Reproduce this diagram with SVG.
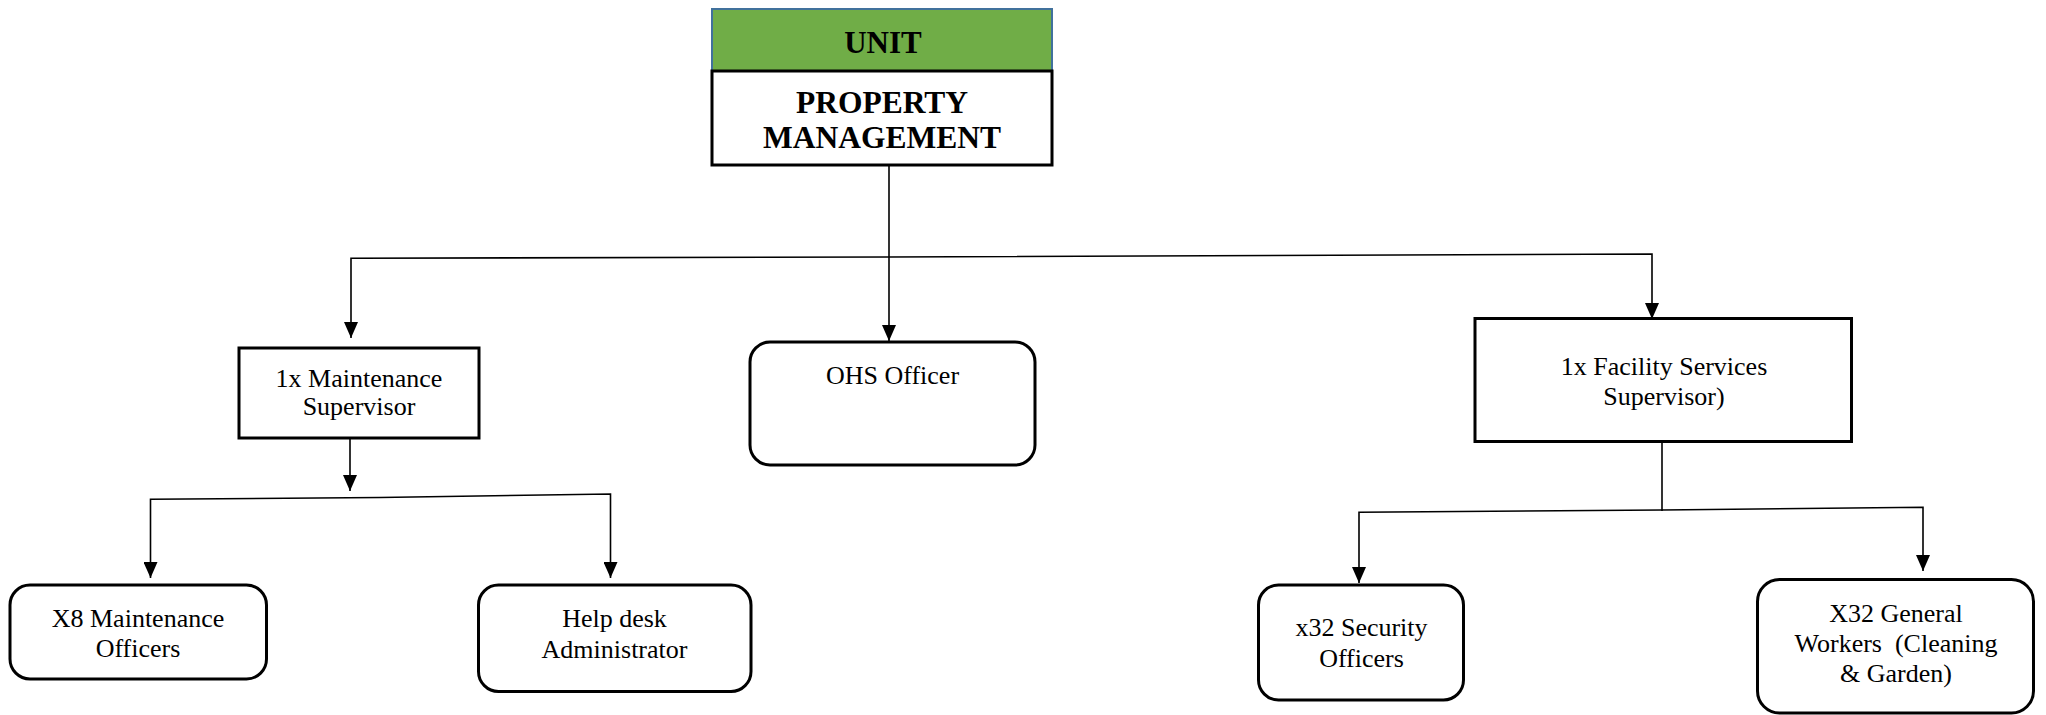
<svg xmlns="http://www.w3.org/2000/svg" width="2046" height="715" viewBox="0 0 2046 715">
<style>
  .box { fill: #ffffff; stroke: #000000; stroke-width: 3; }
  .conn { fill: none; stroke: #000000; stroke-width: 1.6; }
  .t { font-family: "Liberation Serif", "Times New Roman", serif; font-size: 26px; fill: #000000; text-anchor: middle; white-space: pre; }
  .tb { font-family: "Liberation Serif", "Times New Roman", serif; font-weight: bold; fill: #000000; text-anchor: middle; }
</style>
<defs>
  <marker id="arr" viewBox="0 0 16 14" refX="16" refY="7" markerWidth="16" markerHeight="14" markerUnits="userSpaceOnUse" orient="auto">
    <path d="M0,0 L16,7 L0,14 z" fill="#000000"/>
  </marker>
</defs>
<rect width="2046" height="715" fill="#ffffff"/>

<g id="connectors">
  <path class="conn" d="M889,166 L889,341" marker-end="url(#arr)"/>
  <path class="conn" d="M889,257 L351,258.3 L351,338" marker-end="url(#arr)"/>
  <path class="conn" d="M889,257 L1652,254 L1652,319" marker-end="url(#arr)"/>
  <path class="conn" d="M350,439 L350,491" marker-end="url(#arr)"/>
  <path class="conn" d="M380,497.5 L150.5,499.3 L150.5,578" marker-end="url(#arr)"/>
  <path class="conn" d="M380,497.5 L610.5,494 L610.5,578" marker-end="url(#arr)"/>
  <path class="conn" d="M1662,443 L1662,511"/>
  <path class="conn" d="M1662,510 L1359,512.3 L1359,583" marker-end="url(#arr)"/>
  <path class="conn" d="M1662,510 L1923,507.3 L1923,571" marker-end="url(#arr)"/>
</g>

<g id="unit">
  <rect x="712" y="9" width="340" height="62" fill="#70AD47" stroke="#41719C" stroke-width="2"/>
  <text class="tb" x="883" y="52.5" font-size="31">UNIT</text>
</g>

<g id="property-management">
  <rect class="box" x="712" y="71" width="340" height="94"/>
  <text class="tb" x="882" y="112.5" font-size="31.5">PROPERTY</text>
  <text class="tb" x="882" y="147.5" font-size="31.5">MANAGEMENT</text>
</g>

<g id="maintenance-supervisor">
  <rect class="box" x="239" y="348" width="240" height="90"/>
  <text class="t" x="359" y="387">1x Maintenance</text>
  <text class="t" x="359" y="415">Supervisor</text>
</g>

<g id="ohs-officer">
  <rect class="box" x="750" y="342" width="285" height="123" rx="20" ry="20"/>
  <text class="t" x="892.5" y="384">OHS Officer</text>
</g>

<g id="facility-supervisor">
  <rect class="box" x="1475" y="318.5" width="376.5" height="123"/>
  <text class="t" x="1664" y="375">1x Facility Services</text>
  <text class="t" x="1664" y="405">Supervisor)</text>
</g>

<g id="maintenance-officers">
  <rect class="box" x="10" y="585" width="256.5" height="94" rx="20" ry="20"/>
  <text class="t" x="138" y="626.5">X8 Maintenance</text>
  <text class="t" x="138" y="656.5">Officers</text>
</g>

<g id="helpdesk-administrator">
  <rect class="box" x="478.5" y="585" width="272.5" height="106.5" rx="20" ry="20"/>
  <text class="t" x="614.5" y="627">Help desk</text>
  <text class="t" x="614.5" y="658">Administrator</text>
</g>

<g id="security-officers">
  <rect class="box" x="1258.5" y="585" width="205" height="115" rx="20" ry="20"/>
  <text class="t" x="1361.5" y="635.5">x32 Security</text>
  <text class="t" x="1361.5" y="667">Officers</text>
</g>

<g id="general-workers">
  <rect class="box" x="1757.5" y="579.5" width="276" height="133.5" rx="22" ry="22"/>
  <text class="t" x="1896" y="622">X32 General</text>
  <text class="t" x="1896" y="652">Workers  (Cleaning</text>
  <text class="t" x="1896" y="682">&amp; Garden)</text>
</g>
</svg>
